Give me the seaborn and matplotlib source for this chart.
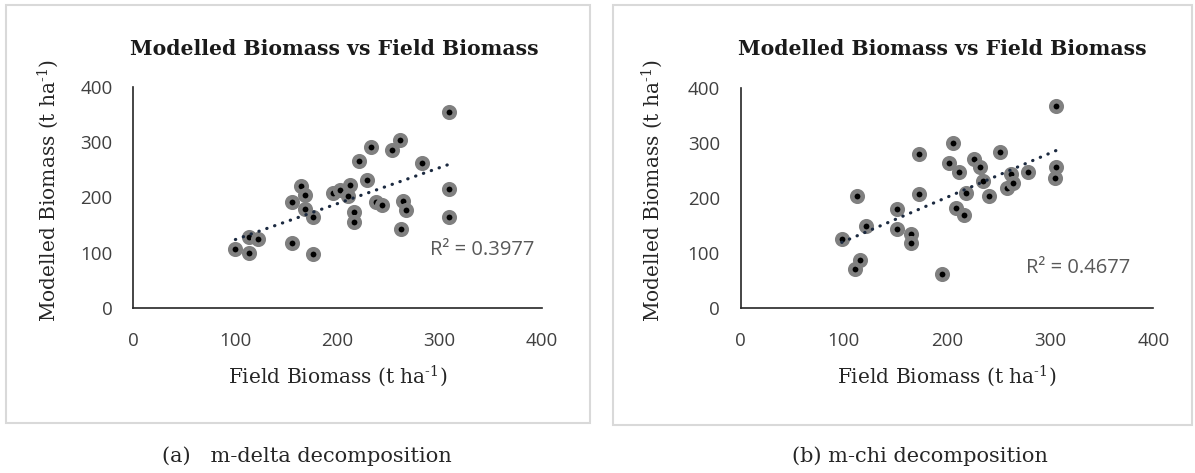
import numpy as np
import pandas as pd
import seaborn as sns
import matplotlib
matplotlib.use("Agg")
import matplotlib.pyplot as plt
from matplotlib.patches import Rectangle

# ---- data ----
delta_field = [100, 113, 113, 122, 155, 176, 155, 164, 168, 168, 176, 196, 202, 212, 210,
               229, 216, 216, 221, 233, 238, 244, 253, 261, 262, 264, 267, 283, 309, 309, 309]
delta_model = [107, 100, 128, 125, 118, 98, 191, 221, 205, 179, 164, 209, 214, 223, 203,
               231, 173, 155, 266, 292, 192, 187, 286, 304, 143, 194, 177, 263, 355, 215, 164]

chi_field = [98, 111, 116, 113, 121, 152, 152, 165, 165, 173, 173, 195, 206, 202, 212,
             209, 216, 218, 226, 232, 235, 241, 251, 262, 258, 264, 279, 306, 306, 305]
chi_model = [126, 71, 87, 204, 150, 180, 144, 135, 119, 280, 207, 62, 300, 264, 248,
             183, 170, 210, 271, 256, 232, 204, 285, 244, 219, 228, 248, 367, 256, 236]

r2_labels = ["R\u00b2 = 0.3977", "R\u00b2 = 0.4677"]
captions = ["(a)   m-delta decomposition", "(b) m-chi decomposition"]
title = "Modelled Biomass vs Field Biomass"
xlabel = "Field Biomass (t ha$^{\\text{-1}}$)"
ylabel = "Modelled Biomass (t ha$^{\\text{-1}}$)"
ticks = [0, 100, 200, 300, 400]

sns.set_theme(style="white")
plt.rcParams['font.family'] = ['DejaVu Serif']
plt.rcParams['mathtext.fontset'] = 'custom'
plt.rcParams['mathtext.rm'] = 'DejaVu Serif'

W, H = 1195, 473
fig = plt.figure(figsize=(W / 100, H / 100), dpi=100)
fig.patch.set_facecolor("white")

def fx(px):
    return px / W

def fy(py):
    return 1 - py / H

# panel borders
for (x0, y0, x1, y1) in [(6, 5, 590, 423), (613, 5, 1192, 425)]:
    fig.patches.append(Rectangle((fx(x0), fy(y1)), fx(x1) - fx(x0), fy(y0) - fy(y1),
                                 transform=fig.transFigure, fill=False,
                                 edgecolor="#d9d9d9", linewidth=1.5))

panels = [
    dict(x=delta_field, y=delta_model, ax=(133.3, 86.7, 541.7, 308.3),
         title_x=334, ylab_x=48, r2=(482, 250), cap_x=307, r2txt=r2_labels[0], cap=captions[0]),
    dict(x=chi_field, y=chi_model, ax=(740.7, 88.3, 1153.3, 308.3),
         title_x=942, ylab_x=652, r2=(1078, 268), cap_x=920, r2txt=r2_labels[1], cap=captions[1]),
]

for p in panels:
    x0, y0, x1, y1 = p["ax"]
    ax = fig.add_axes([fx(x0), fy(y1), fx(x1) - fx(x0), fy(y0) - fy(y1)])
    df = pd.DataFrame({"field": p["x"], "model": p["y"]})
    sns.regplot(data=df, x="field", y="model", ax=ax, ci=None, truncate=True,
                scatter_kws=dict(s=57, facecolor="black", edgecolor="#808080",
                                 linewidths=3.3, alpha=1, zorder=3),
                line_kws=dict(color="#1c2a40", linestyle=(0, (0.1, 2.5)),
                              linewidth=2.3, dash_capstyle="round", zorder=4))
    ax.set_xlim(0, 400)
    ax.set_ylim(0, 400)
    ax.set_xticks(ticks)
    ax.set_yticks(ticks)
    ax.set_xlabel("")
    ax.set_ylabel("")
    for lab in ax.get_xticklabels() + ax.get_yticklabels():
        lab.set_fontfamily("Open Sans")
        lab.set_fontsize(13.5)
        lab.set_color("#404040")
    ax.tick_params(axis="x", pad=17, length=0)
    ax.tick_params(axis="y", pad=15, length=0)
    for s in ["top", "right"]:
        ax.spines[s].set_visible(False)
    for s in ["left", "bottom"]:
        ax.spines[s].set_color("#262626")
        ax.spines[s].set_linewidth(1.2)
    ax.grid(False)
    ax.set_facecolor("none")

    fig.text(fx(p["title_x"]), fy(49), title, ha="center", va="center",
             fontsize=14.7, fontweight="bold", color="#1a1a1a")
    fig.text(fx((x0 + x1) / 2), fy(376), xlabel, ha="center", va="center",
             fontsize=14.5, color="#262626")
    fig.text(fx(p["ylab_x"]), fy(190), ylabel, ha="center", va="center",
             rotation=90, fontsize=14.5, color="#262626")
    fig.text(fx(p["r2"][0]), fy(p["r2"][1]), p["r2txt"], ha="center", va="center",
             fontsize=14.5, color="#595959", family=["Open Sans", "DejaVu Sans"])
    fig.text(fx(p["cap_x"]), fy(456), p["cap"], ha="center", va="center",
             fontsize=15, color="#262626")

fig.savefig("out.png", dpi=100, facecolor="white")
